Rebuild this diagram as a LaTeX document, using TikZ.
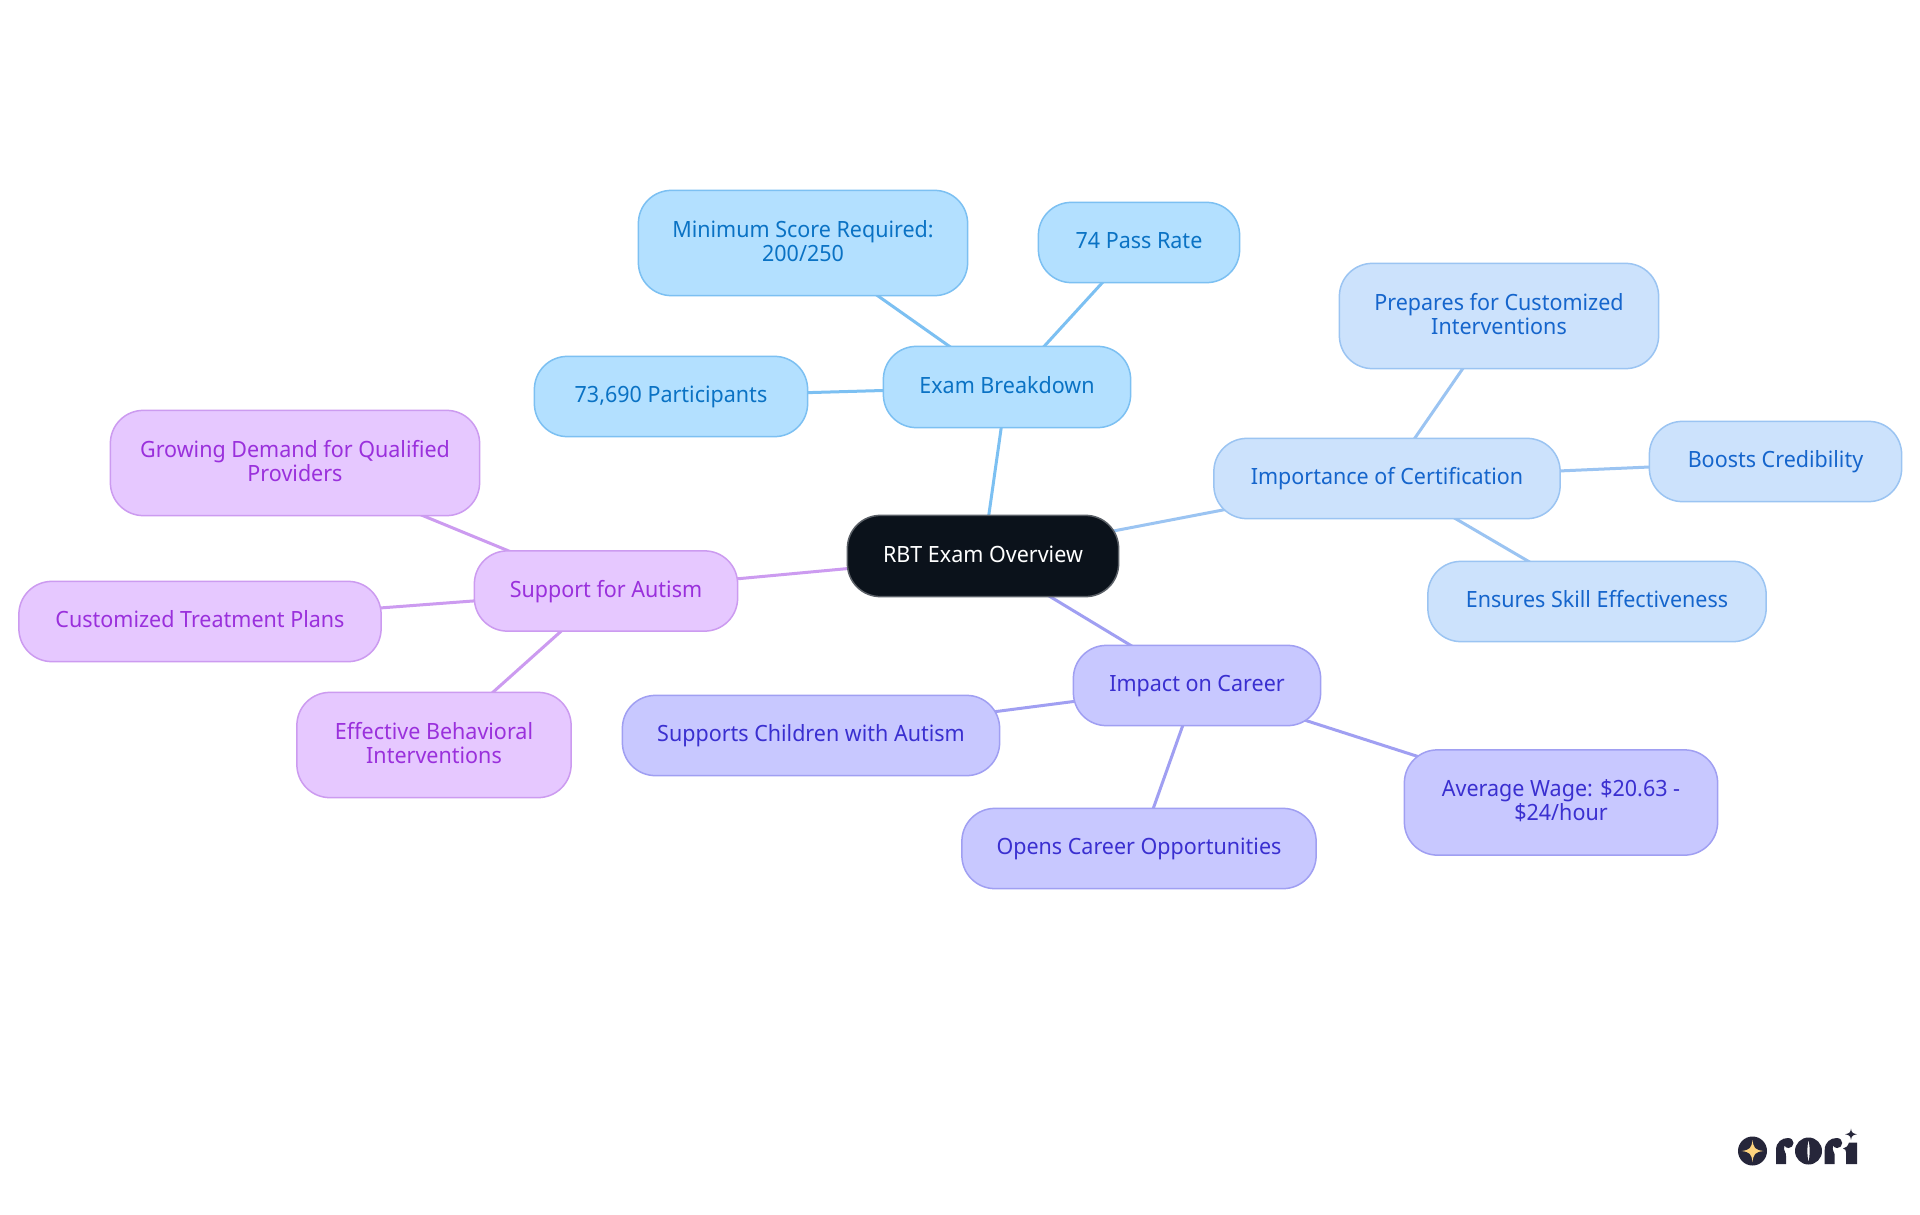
\documentclass[tikz,border=0pt]{standalone}
\usepackage{fontspec}
\setmainfont{Noto Sans}[FakeStretch=0.96]
\usetikzlibrary{backgrounds}
\definecolor{rootfill}{HTML}{0B121B}
\definecolor{rootline}{HTML}{5A5F66}
\definecolor{afill}{HTML}{B3E0FF}\definecolor{aline}{HTML}{7CC0F2}\definecolor{atext}{HTML}{0A72C4}
\definecolor{bfill}{HTML}{CCE2FC}\definecolor{bline}{HTML}{9BC4F2}\definecolor{btext}{HTML}{1565CC}
\definecolor{cfill}{HTML}{C8C8FF}\definecolor{cline}{HTML}{A09FF2}\definecolor{ctext}{HTML}{3A2FD0}
\definecolor{dfill}{HTML}{E6C8FF}\definecolor{dline}{HTML}{CC9BF0}\definecolor{dtext}{HTML}{9A30DC}
\definecolor{logodark}{HTML}{26263A}\definecolor{logostar}{HTML}{FFD47E}
\tikzset{
  x=1pt,y=-1pt,
  mm/.style={rounded corners=33pt,line width=1.5pt,inner sep=0pt,align=center,
    font=\fontsize{22.4}{24}\selectfont},
  one/.style={mm,text height=12pt,text depth=0pt},
  two/.style={mm,text height=36pt,text depth=0pt},
  rootn/.style={one,draw=rootline,fill=rootfill,text=white},
  an/.style={draw=aline,fill=afill,text=atext},
  bn/.style={draw=bline,fill=bfill,text=btext},
  cn/.style={draw=cline,fill=cfill,text=ctext},
  dn/.style={draw=dline,fill=dfill,text=dtext},
  box/.style args={#1/#2}{minimum width=#1pt-0.75pt,minimum height=#2pt-0.75pt},
  link/.style={line width=3pt}
}
\begin{document}
\begin{tikzpicture}
\useasboundingbox (0,0) rectangle (1920,1215);
\node[rootn,box=272/82] (root) at (983,556) {RBT Exam Overview};
\node[one,an,box=248/82] (exam) at (1007,387) {Exam Breakdown};
\node[two,an,box=330/106] (minscore) at (803,243) {Minimum Score Required:\\200/250};
\node[one,an,box=202/81] (pass) at (1139,242.5) {74 Pass Rate};
\node[one,an,box=274/81] (part) at (671,396.5) {73,690 Participants};
\node[one,bn,box=347/81] (imp) at (1387,478.5) {Importance of Certification};
\node[two,bn,box=320/106] (prep) at (1499,316) {Prepares for Customized\\Interventions};
\node[one,bn,box=253/81] (boost) at (1775.5,461.5) {Boosts Credibility};
\node[one,bn,box=339/81] (ens) at (1597,601.5) {Ensures Skill Effectiveness};
\node[one,cn,box=248/81] (career) at (1197,685.5) {Impact on Career};
\node[one,cn,box=378/81] (supp) at (811,735.5) {Supports Children with Autism};
\node[one,cn,box=355/81] (opens) at (1139,848.5) {Opens Career Opportunities};
\node[two,cn,box=314/106] (wage) at (1561,802.5) {Average Wage: \$20.63 -\\\$24/hour};
\node[one,dn,box=264/81] (autism) at (606,591) {Support for Autism};
\node[two,dn,box=370/106] (grow) at (295,463) {Growing Demand for Qualified\\Providers};
\node[one,dn,box=363/81] (cust) at (200,621.5) {Customized Treatment Plans};
\node[two,dn,box=275/106] (eff) at (434,745) {Effective Behavioral\\Interventions};
\begin{scope}[on background layer]
\fill[white] (0,0) rectangle (1920,1215);
\draw[link,aline] (root.center)--(exam.center) (exam.center)--(minscore.center) (exam.center)--(pass.center) (exam.center)--(part.center);
\draw[link,bline] (root.center)--(imp.center) (imp.center)--(prep.center) (imp.center)--(boost.center) (imp.center)--(ens.center);
\draw[link,cline] (root.center)--(career.center) (career.center)--(supp.center) (career.center)--(opens.center) (career.center)--(wage.center);
\draw[link,dline] (root.center)--(autism.center) (autism.center)--(grow.center) (autism.center)--(cust.center) (autism.center)--(eff.center);
\end{scope}
% logo
\fill[logodark] (1752.5,1151) circle (14.5);
\fill[logostar] (1752.5,1140) .. controls (1753.5,1148) and (1755,1150) .. (1763.5,1151) .. controls (1755,1152) and (1753.5,1154) .. (1752.5,1162) .. controls (1751.5,1154) and (1750,1152) .. (1741.5,1151) .. controls (1750,1150) and (1751.5,1148) .. (1752.5,1140) -- cycle;
% letter r (twice)
\foreach \dx in {0,48.7}{
\begin{scope}[xshift=\dx pt]
\fill[logodark] (1776,1164) -- (1776,1150) .. controls (1776,1142) and (1782,1138) .. (1788,1138) .. controls (1791.5,1138) and (1793.5,1140.5) .. (1793.5,1143) .. controls (1793.5,1146) and (1791,1148) .. (1788.5,1148) .. controls (1786.5,1148) and (1785,1147) .. (1784.5,1145.5) .. controls (1783.5,1148) and (1784,1150) .. (1785,1152) .. controls (1785.6,1153) and (1786,1154) .. (1786,1156) -- (1786,1164) -- cycle;
\end{scope}}
% letter o
\fill[logodark,even odd rule] (1808.5,1151) circle (13.5)
  (1808.5,1140) .. controls (1807,1146) and (1807,1156) .. (1808.5,1162) .. controls (1810,1156) and (1810,1146) .. (1808.5,1140) -- cycle;
% letter i
\fill[logodark] (1846,1164) -- (1846,1152) .. controls (1846,1150) and (1845,1149) .. (1843,1148.5) .. controls (1846,1148) and (1848,1146) .. (1849,1142.5) -- (1857,1142.5) -- (1857,1164) -- cycle;
\fill[logodark] (1851,1128.5) .. controls (1851.5,1132.5) and (1852.5,1133.5) .. (1857,1134.2) .. controls (1852.5,1135) and (1851.5,1136) .. (1851,1140) .. controls (1850.5,1136) and (1849.5,1135) .. (1845,1134.2) .. controls (1849.5,1133.5) and (1850.5,1132.5) .. (1851,1128.5) -- cycle;
\end{tikzpicture}
\end{document}
